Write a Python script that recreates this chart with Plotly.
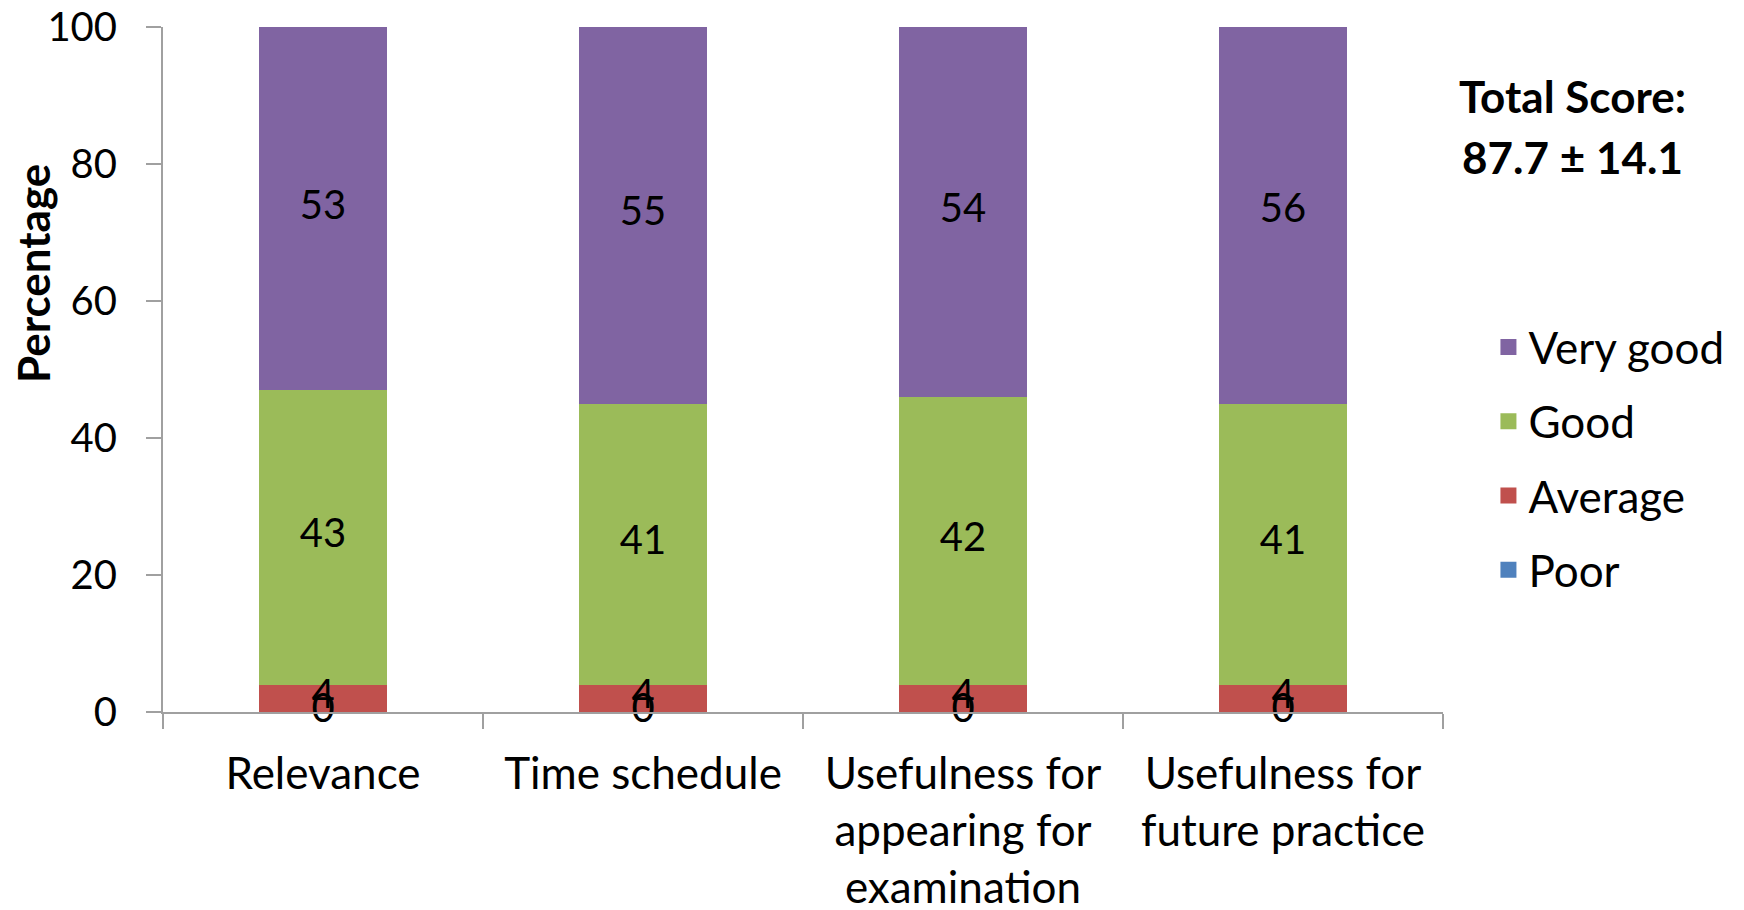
import numpy as np
import plotly.graph_objects as go

categories = ["Relevance", "Time schedule", "Usefulness for appearing for examination",
              "Usefulness for future practice"]
tick_labels = ["Relevance", "Time schedule", "Usefulness for<br>appearing for<br>examination",
               "Usefulness for<br>future practice"]
poor = [0, 0, 0, 0]
average = [4, 4, 4, 4]
good = [43, 41, 42, 41]
very_good = [53, 55, 54, 56]

series = [("Poor", poor, "#4F81BD"), ("Average", average, "#C0504D"),
          ("Good", good, "#9BBB59"), ("Very good", very_good, "#8064A2")]

FONT = "Lato"
FS_NUM = 40
FS_TXT = 44

fig = go.Figure()
base = np.zeros(len(categories))
label_x, label_y, label_t = [], [], []
for i, (name, vals, color) in enumerate(series):
    v = np.array(vals, dtype=float)
    rank = len(series) - i
    fig.add_trace(go.Bar(x=categories, y=v, name=name, marker_color=color,
                         marker_line_width=0, legendgroup=name, width=0.4,
                         showlegend=False))
    # legend entry (square marker so the key is larger than the default bar key)
    fig.add_trace(go.Scatter(x=[None], y=[None], mode="markers", name=name,
                             legendgroup=name, legendrank=rank,
                             marker=dict(symbol="square", size=16, color=color)))
    for c, b, val in zip(categories, base, v):
        label_x.append(c)
        label_y.append(b + val / 2)
        label_t.append(str(int(val)))
    base = base + v

fig.add_trace(go.Scatter(x=label_x, y=label_y, text=label_t, mode="text",
                         textfont=dict(family=FONT, size=FS_NUM, color="black"),
                         showlegend=False, hoverinfo="skip", cliponaxis=False))

fig.update_layout(
    barmode="stack",
    width=1736, height=902,
    margin=dict(l=155, r=301, t=19, b=198, autoexpand=False),
    plot_bgcolor="white", paper_bgcolor="white",
    font=dict(family=FONT, size=FS_TXT, color="black"),
    legend=dict(x=1.0355, xanchor="left", y=0.584, yanchor="top",
                traceorder="grouped", tracegroupgap=14, itemwidth=30,
                font=dict(family=FONT, size=FS_TXT, color="black")),
    showlegend=True,
)
fig.update_xaxes(type="category", categoryorder="array", categoryarray=categories,
                 tickvals=categories, ticktext=tick_labels,
                 showline=True, linecolor="#A0A0A0", linewidth=2,
                 ticks="outside", tickson="boundaries", ticklen=15, tickcolor="#A0A0A0",
                 tickwidth=2, showgrid=False, ticklabelstandoff=22,
                 ticklabeloverflow="allow",
                 tickfont=dict(family=FONT, size=FS_TXT))
fig.update_yaxes(range=[0, 100], tickvals=[0, 20, 40, 60, 80, 100],
                 showline=True, linecolor="#A0A0A0", linewidth=2,
                 ticks="outside", ticklen=15, tickcolor="#A0A0A0", tickwidth=2,
                 showgrid=False, zeroline=False, ticklabelstandoff=21,
                 ticklabeloverflow="allow",
                 tickfont=dict(family=FONT, size=FS_NUM))

fig.add_annotation(text="<b>Percentage</b>", x=-0.102, y=0.64, xref="paper", yref="paper",
                   xanchor="center", yanchor="middle",
                   textangle=-90, showarrow=False, font=dict(family=FONT, size=FS_TXT))
fig.add_annotation(text="<b>Total Score:</b>", x=1.1008, y=0.899, xref="paper", yref="paper",
                   xanchor="center", yanchor="middle",
                   showarrow=False, font=dict(family=FONT, size=FS_TXT))
fig.add_annotation(text="<b>87.7 ± 14.1</b>", x=1.1008, y=0.81, xref="paper", yref="paper",
                   xanchor="center", yanchor="middle",
                   showarrow=False, font=dict(family=FONT, size=FS_TXT))

fig.write_html("out.html")
